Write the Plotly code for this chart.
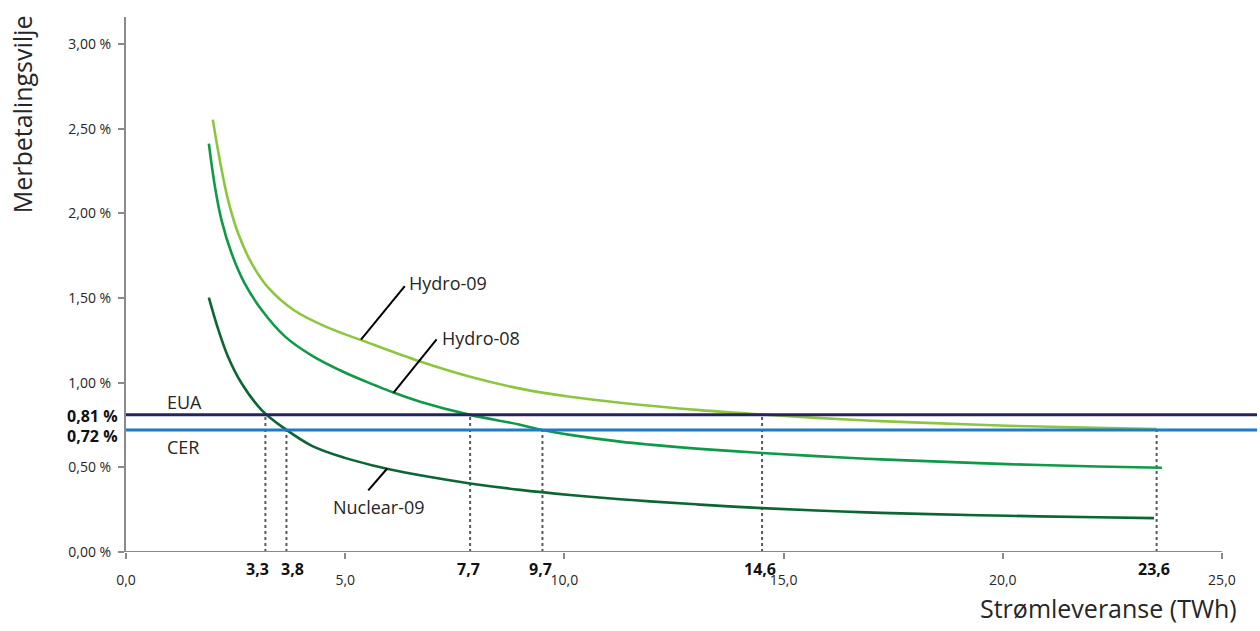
import plotly.graph_objects as go

# ---- data ----
hydro09_x = [1.98, 2.14, 2.33, 2.56, 2.87, 3.25, 3.85, 4.61, 5.38, 6.71, 7.85, 8.99, 10.13, 11.27,
             13.09, 14.51, 15.75, 16.89, 18.11, 20.11, 22.15, 23.51]
hydro09_y = [2.554, 2.314, 2.077, 1.881, 1.703, 1.560, 1.425, 1.325, 1.250, 1.125, 1.035, 0.965, 0.917,
             0.882, 0.838, 0.812, 0.792, 0.777, 0.764, 0.746, 0.733, 0.726]

hydro08_x = [1.89, 2.03, 2.18, 2.41, 2.71, 3.10, 3.63, 4.24, 4.99, 5.68, 6.10, 6.71, 7.85, 8.99, 9.50,
             10.13, 11.27, 11.95, 13.09, 14.51, 15.75, 16.89, 18.11, 20.11, 22.15, 23.63]
hydro08_y = [2.412, 2.156, 1.959, 1.763, 1.585, 1.428, 1.272, 1.160, 1.060, 0.985, 0.942, 0.888, 0.810,
             0.752, 0.720, 0.692, 0.652, 0.634, 0.609, 0.585, 0.566, 0.551, 0.538, 0.519, 0.505, 0.498]

nuclear09_x = [1.89, 2.11, 2.33, 2.64, 3.10, 3.63, 4.24, 4.99, 5.68, 5.95, 6.71, 7.85, 8.99, 10.13,
               11.27, 11.95, 13.09, 14.51, 15.75, 16.89, 18.11, 20.11, 22.15, 23.45]
nuclear09_y = [1.503, 1.310, 1.152, 0.995, 0.837, 0.727, 0.627, 0.556, 0.508, 0.492, 0.453, 0.405,
               0.367, 0.337, 0.312, 0.299, 0.280, 0.259, 0.245, 0.234, 0.225, 0.214, 0.205, 0.200]

price_names = ["EUA", "CER"]
price_values = [0.81, 0.72]
price_labels = ["0,81 %", "0,72 %"]

drop_x = [3.18, 3.66, 7.85, 9.50, 14.51, 23.51]
drop_top = [0.81, 0.72, 0.81, 0.72, 0.81, 0.72]
drop_labels = ["3,3", "3,8", "7,7", "9,7", "14,6", "23,6"]

x_tickvals = [0, 5, 10, 15, 20, 25]
x_ticktext = ["0,0", "5,0", "10,0", "15,0", "20,0", "25,0"]
y_tickvals = [0, 0.5, 1.0, 1.5, 2.0, 2.5, 3.0]
y_ticktext = ["0,00 %", "0,50 %", "1,00 %", "1,50 %", "2,00 %", "2,50 %", "3,00 %"]

# ---- styling ----
FONT = "Open Sans"
AXIS_GRAY = "#8a8a8a"
TXT = "#262626"
C_H09 = "#8cc63f"
C_H08 = "#0f9a48"
C_N09 = "#0b6633"
C_EUA = "#29235c"
C_CER = "#1f7bc4"

fig = go.Figure()

for xs, ys, col, name in [(hydro09_x, hydro09_y, C_H09, "Hydro-09"),
                          (hydro08_x, hydro08_y, C_H08, "Hydro-08"),
                          (nuclear09_x, nuclear09_y, C_N09, "Nuclear-09")]:
    fig.add_trace(go.Scatter(x=xs, y=ys, mode="lines", name=name,
                             line=dict(color=col, width=2.6, shape="spline", smoothing=1.0),
                             showlegend=False, hoverinfo="skip"))

shapes = []
# dotted drop lines
for dx, top in zip(drop_x, drop_top):
    shapes.append(dict(type="line", xref="x", yref="y", x0=dx, x1=dx, y0=0, y1=top,
                       line=dict(color="#5a5a5a", width=2, dash="dot"), layer="below"))
# price lines
for val, col in zip(price_values, [C_EUA, C_CER]):
    shapes.append(dict(type="line", xref="paper", yref="y", x0=0, x1=1, y0=val, y1=val,
                       line=dict(color=col, width=3)))
# x axis line (only up to 25)
shapes.append(dict(type="line", xref="x", yref="y", x0=0, x1=25, y0=0, y1=0,
                   line=dict(color=AXIS_GRAY, width=2)))

annotations = []
# price labels
annotations.append(dict(text="EUA", x=1.345, y=0.884, xref="x", yref="y", showarrow=False,
                         font=dict(family=FONT, size=18, color=TXT)))
annotations.append(dict(text="CER", x=1.29, y=0.618, xref="x", yref="y", showarrow=False,
                         font=dict(family=FONT, size=18, color=TXT)))
for val, lab, ys in zip(price_values, price_labels, [-1, -6]):
    annotations.append(dict(text="<b>" + lab + "</b>", x=-0.005, xref="paper", xanchor="right",
                            y=val, yref="y", yshift=ys, showarrow=False,
                            font=dict(family=FONT, size=16, color="#111111")))
# drop labels
for dx, lab, xs in zip(drop_x, drop_labels, [-8, 6, -2, -2, -2, -3]):
    annotations.append(dict(text="<b>" + lab + "</b>", x=dx, xref="x", y=0, yref="y",
                            yshift=-17, xshift=xs, showarrow=False,
                            font=dict(family=FONT, size=16, color="#111111")))

# curve labels with leader lines
leaders = [((5.36, 1.255), (6.36, 1.571)),
           ((6.10, 0.940), (7.085, 1.256)),
           ((5.526, 0.364), (5.959, 0.493))]
for (a, b) in leaders:
    shapes.append(dict(type="line", xref="x", yref="y", x0=a[0], y0=a[1], x1=b[0], y1=b[1],
                       line=dict(color="black", width=2)))
annotations.append(dict(text="Hydro-09", x=6.42, y=1.587, xref="x", yref="y", xanchor="left",
                         showarrow=False, font=dict(family=FONT, size=18, color=TXT)))
annotations.append(dict(text="Hydro-08", x=7.17, y=1.262, xref="x", yref="y", xanchor="left",
                         showarrow=False, font=dict(family=FONT, size=18, color=TXT)))
annotations.append(dict(text="Nuclear-09", x=5.76, y=0.264, xref="x", yref="y",
                         showarrow=False, font=dict(family=FONT, size=18, color=TXT)))

# axis titles
annotations.append(dict(text="Strømleveranse (TWh)", x=0.984, xanchor="right", xref="paper",
                         y=-0.105, yref="paper", yanchor="middle", showarrow=False,
                         font=dict(family=FONT, size=25, color=TXT)))
annotations.append(dict(text="Merbetalingsvilje", x=-0.092, xref="paper", xanchor="center",
                         y=0.818, yref="paper", yanchor="middle", textangle=-90, showarrow=False,
                         font=dict(family=FONT, size=25, color=TXT)))

fig.update_layout(
    width=1260, height=631,
    margin=dict(l=126, r=3, t=17, b=79),
    paper_bgcolor="white", plot_bgcolor="white",
    font=dict(family=FONT, color=TXT),
    shapes=shapes, annotations=annotations,
    xaxis=dict(range=[0, 25.8], showgrid=False, zeroline=False, showline=False,
               tickmode="array", tickvals=x_tickvals, ticktext=x_ticktext,
               ticks="outside", ticklen=6, tickwidth=2, tickcolor=AXIS_GRAY,
               ticklabelstandoff=9, tickfont=dict(family=FONT, size=14, color=TXT)),
    yaxis=dict(range=[0, 3.16], showgrid=False, zeroline=False, showline=True,
               linecolor=AXIS_GRAY, linewidth=2,
               tickmode="array", tickvals=y_tickvals, ticktext=y_ticktext,
               ticks="outside", ticklen=6, tickwidth=2, tickcolor=AXIS_GRAY,
               ticklabelstandoff=4, tickfont=dict(family=FONT, size=14, color=TXT)),
)

fig.write_html("out.html", config={"displayModeBar": False},
               post_script="document.body.style.margin='0px';document.body.style.overflow='hidden';")
